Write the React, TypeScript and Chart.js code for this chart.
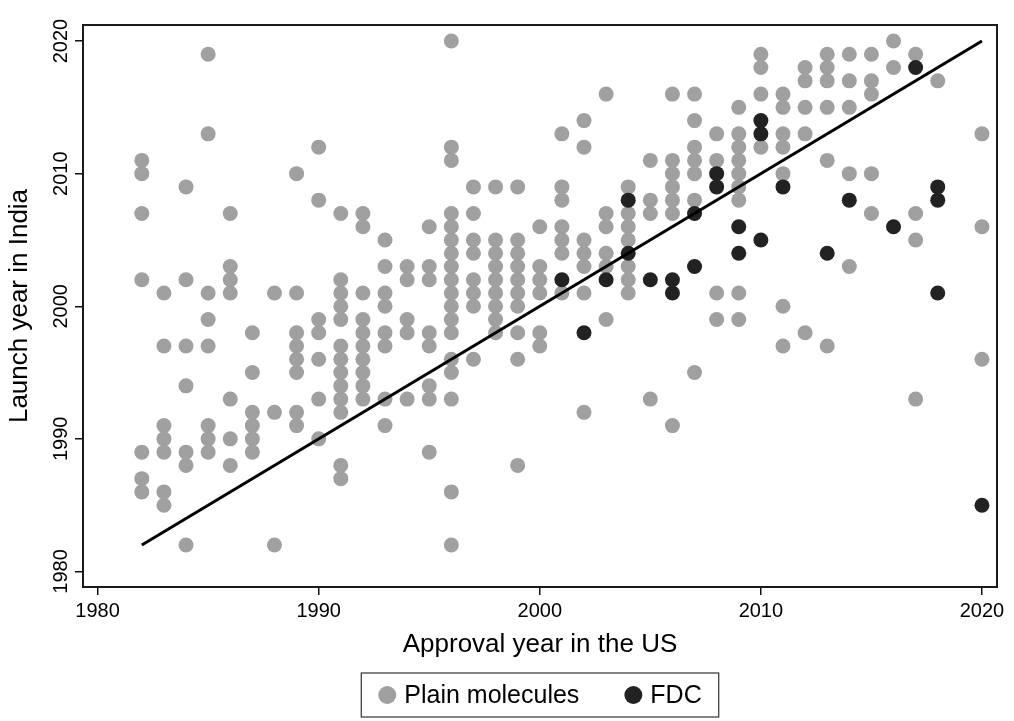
import React, { useEffect, useRef } from "react";
import { Chart, registerables } from "chart.js";
Chart.register(...registerables);

// ---- data ----
const plainApprovalYears = [
  1982, 1983, 1984, 1985, 1986, 1987, 1988, 1989, 1990, 1991, 1992, 1993, 1994,
  1995, 1996, 1997, 1998, 1999, 2000, 2001, 2002, 2003, 2004, 2005, 2006, 2007,
  2008, 2009, 2010, 2011, 2012, 2013, 2014, 2015, 2016, 2017, 2018, 2020,
];
const plainLaunchYears = [
  [2011, 2010, 2007, 2002, 1989, 1987, 1986],
  [2001, 1997, 1991, 1990, 1989, 1986, 1985],
  [2009, 2002, 1997, 1994, 1989, 1988, 1982],
  [2019, 2013, 2001, 1999, 1997, 1991, 1990, 1989],
  [2007, 2003, 2002, 2001, 1993, 1990, 1988],
  [1998, 1995, 1992, 1991, 1990, 1989],
  [2001, 1992, 1982],
  [2010, 2001, 1998, 1997, 1996, 1995, 1992, 1991],
  [2012, 2008, 1999, 1998, 1996, 1993, 1990],
  [2007, 2002, 2001, 2000, 1999, 1997, 1996, 1995, 1994, 1993, 1992, 1988, 1987],
  [2007, 2006, 2001, 1999, 1998, 1997, 1996, 1995, 1994, 1993],
  [2005, 2003, 2001, 2000, 1998, 1997, 1993, 1991],
  [2003, 2002, 1999, 1998, 1993],
  [2006, 2003, 2002, 1998, 1997, 1994, 1993, 1989],
  [2020, 2012, 2011, 2007, 2006, 2005, 2004, 2003, 2002, 2001, 2000, 1999, 1998, 1996, 1995, 1993, 1986, 1982],
  [2009, 2007, 2005, 2004, 2002, 2001, 2000, 1996],
  [2009, 2005, 2004, 2003, 2002, 2001, 2000, 1999, 1998],
  [2009, 2005, 2004, 2003, 2002, 2001, 2000, 1998, 1996, 1988],
  [2006, 2003, 2002, 2001, 1998, 1997],
  [2013, 2009, 2008, 2006, 2005, 2004, 2001],
  [2014, 2012, 2005, 2004, 2003, 2001, 1992],
  [2016, 2007, 2006, 2004, 2003, 1999],
  [2009, 2007, 2006, 2005, 2003, 2002, 2001],
  [2011, 2008, 2007, 1993],
  [2016, 2011, 2010, 2009, 2008, 2007, 1991],
  [2016, 2014, 2012, 2011, 2010, 2008, 1995],
  [2013, 2011, 2001, 1999],
  [2015, 2013, 2012, 2011, 2010, 2009, 2008, 2001, 1999],
  [2019, 2018, 2016, 2012],
  [2016, 2015, 2013, 2012, 2010, 2000, 1997],
  [2018, 2017, 2015, 2013, 1998],
  [2019, 2018, 2017, 2015, 2011, 1997],
  [2019, 2017, 2015, 2010, 2003],
  [2019, 2017, 2016, 2010, 2007],
  [2020, 2018],
  [2019, 2007, 2005, 1993],
  [2017],
  [2013, 2006, 1996],
];
const fdcApprovalYears = [
  2001, 2002, 2003, 2004, 2004, 2005, 2006, 2006, 2007, 2007, 2008, 2008, 2009,
  2009, 2010, 2010, 2010, 2011, 2013, 2014, 2016, 2017, 2018, 2018, 2018, 2020,
];
const fdcLaunchYears = [
  2002, 1998, 2002, 2008, 2004, 2002, 2002, 2001, 2007, 2003, 2010, 2009, 2006,
  2004, 2014, 2013, 2005, 2009, 2004, 2008, 2006, 2018, 2009, 2008, 2001, 1985,
];
const lineX = [1982, 2020];
const lineY = [1982, 2020];
const xTickValues = [1980, 1990, 2000, 2010, 2020];
const yTickValues = [1980, 1990, 2000, 2010, 2020];
const seriesLabels = ["Plain molecules", "FDC"];
const xTitle = "Approval year in the US";
const yTitle = "Launch year in India";

const FONT = '"Liberation Sans", Arial, Helvetica, sans-serif';
const GRAY = "#a0a0a0";
const DARK = "#222222";

const framePlugin = {
  id: "frame",
  afterDraw(chart: any) {
    const { ctx, chartArea } = chart;
    ctx.save();
    ctx.strokeStyle = "#1a1a1a";
    ctx.lineWidth = 2;
    ctx.strokeRect(
      chartArea.left,
      chartArea.top,
      chartArea.right - chartArea.left,
      chartArea.bottom - chartArea.top
    );
    ctx.restore();
  },
};

const legendPlugin = {
  id: "boxLegend",
  afterDraw(chart: any) {
    const { ctx, chartArea } = chart;
    const ds = [chart.data.datasets[1], chart.data.datasets[2]];
    ctx.save();
    ctx.font = `25px ${FONT}`;
    const r = 9;
    const padX = 17;
    const gap = 8;
    const itemGap = 45;
    const widths = ds.map((d: any) => ctx.measureText(d.label).width);
    const total =
      padX * 2 + widths.reduce((a: number, b: number) => a + b, 0) + ds.length * (2 * r + gap) + itemGap * (ds.length - 1);
    const cx = (chartArea.left + chartArea.right) / 2;
    const boxL = cx - total / 2;
    const boxT = 673;
    const boxH = 44;
    const cy = boxT + boxH / 2;
    ctx.strokeStyle = "#333";
    ctx.lineWidth = 1.2;
    ctx.strokeRect(boxL, boxT, total, boxH);
    let x = boxL + padX;
    ds.forEach((d: any, i: number) => {
      ctx.beginPath();
      ctx.fillStyle = d.backgroundColor;
      ctx.arc(x + r, cy, r, 0, Math.PI * 2);
      ctx.fill();
      x += 2 * r + gap;
      ctx.fillStyle = "#000";
      ctx.textBaseline = "middle";
      ctx.textAlign = "left";
      ctx.fillText(d.label, x, cy + 1);
      x += widths[i] + itemGap;
    });
    ctx.restore();
  },
};

export default function App() {
  const canvasRef = useRef<HTMLCanvasElement | null>(null);

  useEffect(() => {
    if (!canvasRef.current) return;
    const plainPoints: { x: number; y: number }[] = [];
    plainApprovalYears.forEach((ax, i) => {
      plainLaunchYears[i].forEach((ly) => plainPoints.push({ x: ax, y: ly }));
    });
    const fdcPoints = fdcApprovalYears.map((ax, i) => ({ x: ax, y: fdcLaunchYears[i] }));
    const linePoints = lineX.map((x, i) => ({ x, y: lineY[i] }));

    const chart = new Chart(canvasRef.current, {
      type: "scatter",
      data: {
        datasets: [
          {
            label: "fit",
            data: linePoints,
            showLine: true,
            pointRadius: 0,
            borderColor: "#000",
            borderWidth: 3,
            order: 0,
          } as any,
          {
            label: seriesLabels[0],
            data: plainPoints,
            backgroundColor: GRAY,
            borderWidth: 0,
            pointRadius: 7.5,
            order: 2,
          },
          {
            label: seriesLabels[1],
            data: fdcPoints,
            backgroundColor: DARK,
            borderWidth: 0,
            pointRadius: 7.5,
            order: 1,
          },
        ],
      },
      options: {
        responsive: false,
        maintainAspectRatio: false,
        devicePixelRatio: 1,
        animation: false,
        layout: { padding: { left: 0, right: 17, top: 25, bottom: 0 } },
        plugins: {
          legend: { display: false },
          tooltip: { enabled: false },
        },
        scales: {
          x: {
            type: "linear",
            min: 1979.34,
            max: 2020.68,
            afterBuildTicks: (scale: any) => {
              scale.ticks = xTickValues.map((v) => ({ value: v }));
            },
            afterFit: (scale: any) => {
              scale.height = 134;
            },
            grid: {
              drawOnChartArea: false,
              drawTicks: true,
              tickLength: 8,
              color: "#111",
              lineWidth: 1.5,
            },
            border: { display: false },
            ticks: {
              color: "#000",
              font: { family: FONT, size: 20 },
              padding: 4,
              maxRotation: 0,
              callback: (v: any) => String(v),
            },
            title: {
              display: true,
              text: xTitle,
              color: "#000",
              font: { family: FONT, size: 26 },
              padding: { top: 0, bottom: 61 },
            },
          },
          y: {
            type: "linear",
            min: 1978.83,
            max: 2021.21,
            afterBuildTicks: (scale: any) => {
              scale.ticks = yTickValues.map((v) => ({ value: v }));
            },
            afterFit: (scale: any) => {
              scale.width = 83;
            },
            grid: {
              drawOnChartArea: false,
              drawTicks: true,
              tickLength: 8,
              color: "#111",
              lineWidth: 1.5,
            },
            border: { display: false },
            ticks: {
              color: "#000",
              font: { family: FONT, size: 20 },
              padding: -9,
              minRotation: 90,
              maxRotation: 90,
              crossAlign: "center",
              callback: (v: any) => String(v),
            },
            title: {
              display: true,
              text: yTitle,
              color: "#000",
              font: { family: FONT, size: 26 },
              padding: { top: 4, bottom: 0 },
            },
          },
        },
      },
      plugins: [framePlugin, legendPlugin],
    });
    return () => chart.destroy();
  }, []);

  return (
    <div style={{ position: "fixed", left: 0, top: 0, width: 1014, height: 721, background: "#fff" }}>
      <canvas ref={canvasRef} width={1014} height={721} style={{ display: "block" }} />
    </div>
  );
}
